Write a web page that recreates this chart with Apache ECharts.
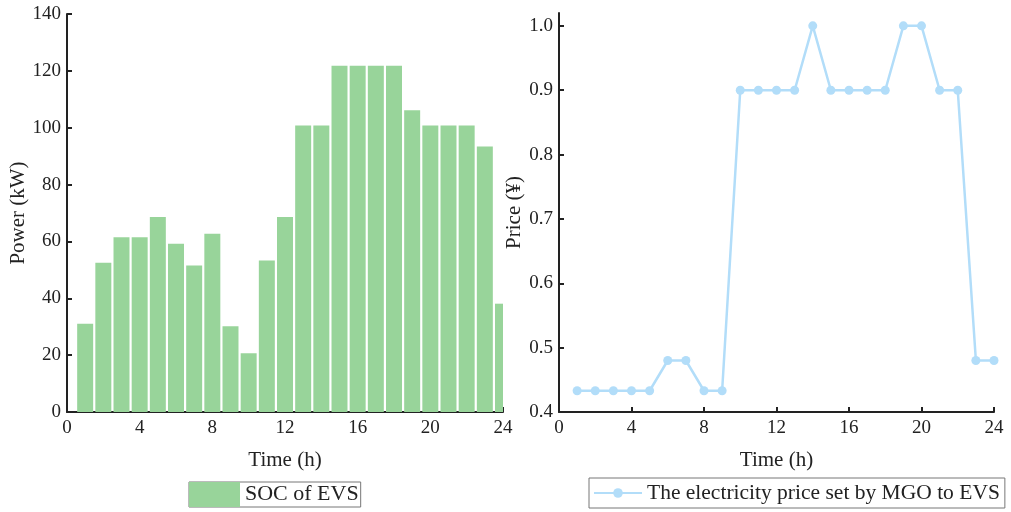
<!DOCTYPE html>
<html>
<head>
<meta charset="utf-8">
<script src="https://cdn.jsdelivr.net/npm/echarts@6/dist/echarts.min.js"></script>
<style>
  html, body { margin: 0; padding: 0; background: #fff; }
  #main { width: 1011px; height: 512px; }
</style>
</head>
<body>
<div id="main"></div>
<script>
// hours of the day
var hours = [1, 2, 3, 4, 5, 6, 7, 8, 9, 10, 11, 12, 13, 14, 15, 16, 17, 18, 19, 20, 21, 22, 23, 24];
// SOC of EVS (kW)
var soc = [31, 52.5, 61.5, 61.5, 68.6, 59.2, 51.5, 62.7, 30.2, 20.7, 53.3, 68.6,
           100.8, 100.8, 121.8, 121.8, 121.8, 121.8, 106.1, 100.8, 100.8, 100.8, 93.4, 38.1];
// electricity price set by MGO (¥)
var price = [0.433, 0.433, 0.433, 0.433, 0.433, 0.48, 0.48, 0.433, 0.433, 0.9, 0.9, 0.9,
             0.9, 1.0, 0.9, 0.9, 0.9, 0.9, 1.0, 1.0, 0.9, 0.9, 0.48, 0.48];
var priceTicks = [0.4, 0.5, 0.6, 0.7, 0.8, 0.9, 1.0];

var font = "'Liberation Serif', 'Times New Roman', serif";
var barColor = '#98d49a';
var lineColor = '#b2ddf9';

var socData = hours.map(function (h, i) { return [h, soc[i]]; });
var priceData = hours.map(function (h, i) { return [h, price[i]]; });

function axisBase() {
  return {
    axisLine: { show: true, lineStyle: { color: '#222', width: 2 } },
    axisTick: { show: true, inside: true, length: 5, lineStyle: { color: '#222', width: 2 } },
    axisLabel: { color: '#222', fontFamily: font, fontSize: 19, margin: 6 },
    splitLine: { show: false },
    nameTextStyle: { color: '#222', fontFamily: font, fontSize: 21 }
  };
}

function xAxis(idx) {
  var a = axisBase();
  a.type = 'value';
  a.gridIndex = idx;
  a.min = 0;
  a.max = 24;
  a.interval = 4;
  a.name = 'Time (h)';
  a.nameLocation = 'middle';
  a.nameGap = 38;
  a.axisLabel.margin = 7;
  return a;
}

var yLeft = axisBase();
yLeft.type = 'value';
yLeft.gridIndex = 0;
yLeft.min = 0;
yLeft.max = 140;
yLeft.interval = 20;
yLeft.name = 'Power (kW)';
yLeft.nameLocation = 'middle';
yLeft.nameGap = 35;

var yRight = axisBase();
yRight.type = 'value';
yRight.gridIndex = 1;
yRight.min = 0.4;
yRight.max = 1.02;
yRight.name = 'Price (¥)';
yRight.nameLocation = 'middle';
yRight.nameGap = 33;
yRight.axisLabel.customValues = priceTicks;
yRight.axisLabel.formatter = function (v) { return v.toFixed(1); };
yRight.axisTick.customValues = priceTicks;

// bars drawn through the axis scales, clipped to the grid like the original
function renderBar(params, api) {
  var x = api.value(0);
  var top = api.coord([x, api.value(1)]);
  var base = api.coord([x, 0]);
  var w = api.size([1, 0])[0] * 0.88;
  var cs = params.coordSys;
  var rect = echarts.graphic.clipRectByRect(
    { x: top[0] - w / 2, y: top[1], width: w, height: base[1] - top[1] },
    { x: cs.x, y: cs.y, width: cs.width, height: cs.height }
  );
  if (!rect) return;
  return { type: 'rect', shape: rect, style: api.style() };
}

var myChart = echarts.init(document.getElementById('main'));

var option = {
  backgroundColor: '#fff',
  animation: false,
  grid: [
    { left: 67, right: 508, top: 14, bottom: 100 },
    { left: 559, right: 17, top: 13, bottom: 100 }
  ],
  xAxis: [xAxis(0), xAxis(1)],
  yAxis: [yLeft, yRight],
  legend: [{
    data: ['SOC of EVS'],
    left: 189,
    top: 482,
    padding: [0, 2, 0, 0],
    borderColor: '#777',
    borderWidth: 1,
    icon: 'rect',
    itemWidth: 51,
    itemHeight: 25,
    textStyle: { color: '#222', fontFamily: font, fontSize: 22 }
  }, {
    data: ['The electricity price set by MGO to EVS'],
    left: 589,
    top: 478,
    padding: [4, 5, 4, 4],
    borderColor: '#777',
    borderWidth: 1,
    itemWidth: 48,
    itemHeight: 12,
    textStyle: { color: '#222', fontFamily: font, fontSize: 21.5 }
  }],
  series: [{
    name: 'SOC of EVS',
    type: 'custom',
    xAxisIndex: 0,
    yAxisIndex: 0,
    renderItem: renderBar,
    encode: { x: 0, y: 1 },
    itemStyle: { color: barColor },
    data: socData
  }, {
    name: 'The electricity price set by MGO to EVS',
    type: 'line',
    xAxisIndex: 1,
    yAxisIndex: 1,
    symbol: 'circle',
    symbolSize: 9,
    clip: true,
    lineStyle: { color: lineColor, width: 2.5 },
    itemStyle: { color: lineColor },
    data: priceData
  }]
};

myChart.setOption(option);
window.addEventListener('resize', function () {
  myChart.resize();
});
</script>
</body>
</html>
